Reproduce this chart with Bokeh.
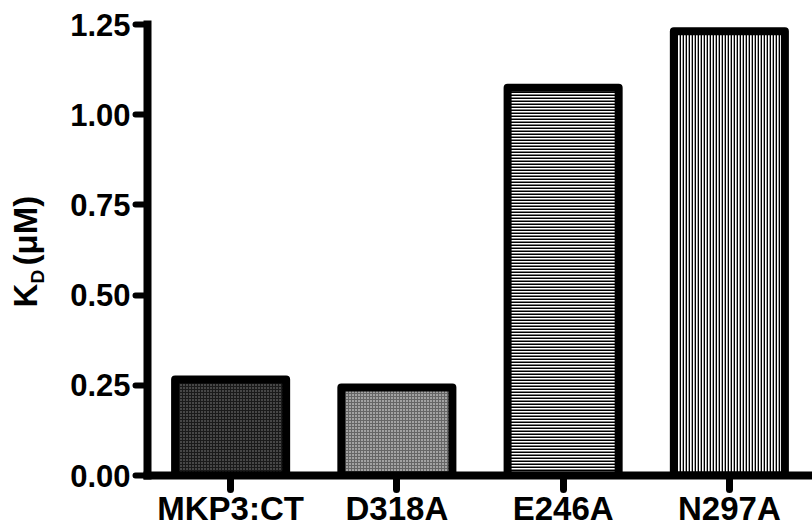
import math
from bokeh.plotting import figure
from bokeh.layouts import row
from bokeh.models import FactorRange, Range1d, FixedTicker, ColumnDataSource
from bokeh.core.properties import value
from bokeh.embed import file_html
from bokeh.resources import INLINE

# ---- data ----
categories = ["MKP3:CT", "D318A", "E246A", "N297A"]
kd_values = [0.266, 0.244, 1.075, 1.231]
y_ticks = [0.0, 0.25, 0.5, 0.75, 1.0, 1.25]
y_tick_labels = ["0.00", "0.25", "0.50", "0.75", "1.00", "1.25"]
y_title_parts = ["K", "D", "(\u03bcM)"]

# ---- styles ----
fill_colors = ["#474747", "#666666", "#ffffff", "#ffffff"]
hatch_patterns = ["cross", "dot", "horizontal_line", "vertical_line"]
hatch_colors = ["#1a1a1a", "#ffffff", "#000000", "#000000"]
hatch_weights = [1.0, 1.0, 2.0, 1.7]
FONT = "Liberation Sans"

TOTAL_W, TOTAL_H = 812, 529
LW = 60                 # width of the y-title strip
W = TOTAL_W - LW
BL, BT, BB = 147 - LW, 24, 54

source = ColumnDataSource(dict(cat=categories, kd=kd_values, fill=fill_colors,
                               hatch=hatch_patterns, hc=hatch_colors, hw=hatch_weights))

p = figure(width=W, height=TOTAL_H, x_range=FactorRange(factors=categories, range_padding=0),
           y_range=Range1d(0, 1.25), output_backend="svg", toolbar_location=None,
           title=None,
           min_border_left=BL, min_border_right=0, min_border_top=BT, min_border_bottom=BB)
p.outline_line_color = None
p.grid.visible = False
p.background_fill_color = "white"
p.border_fill_color = "white"

p.vbar(x="cat", top="kd", width=0.668, source=source,
       fill_color="fill", line_color="black", line_width=8, line_join="round",
       hatch_pattern="hatch", hatch_color="hc", hatch_scale=3, hatch_weight="hw")

# axes
for ax in (p.xaxis[0], p.yaxis[0]):
    ax.axis_line_width = 8
    ax.axis_line_color = "black"
    ax.axis_line_cap = "square"
    ax.major_tick_line_color = "black"
    ax.major_tick_line_cap = "round"
    ax.major_tick_in = 0
    ax.minor_tick_line_color = None
    ax.major_label_text_font = FONT
    ax.major_label_text_font_style = "bold"
    ax.major_label_text_color = "black"

xa = p.xaxis[0]
xa.major_tick_line_width = 7
xa.major_tick_out = 14
xa.major_label_standoff = 0
xa.major_label_text_font_size = "33px"

ya = p.yaxis[0]
ya.ticker = FixedTicker(ticks=y_ticks)
ya.major_label_overrides = {t: s for t, s in zip(y_ticks, y_tick_labels)}
ya.major_tick_line_width = 6
ya.major_tick_out = 12
ya.major_label_standoff = 5
ya.major_label_text_font_size = "31px"

# ---- y-axis title strip: "K_D (μM)" rotated, built from pieces ----
# the strip's frame lines up with the main frame (page y 24..475), so its
# y range is expressed in page pixels measured from the bottom of the page
t = figure(width=LW, height=TOTAL_H, x_range=Range1d(0, LW),
           y_range=Range1d(TOTAL_H - 475, TOTAL_H - 24),
           output_backend="svg", toolbar_location=None, title=None,
           x_axis_location=None, y_axis_location=None,
           min_border_left=0, min_border_right=0, min_border_top=BT, min_border_bottom=BB)
t.outline_line_color = None
t.grid.visible = False
t.border_fill_color = "white"
t.background_fill_color = "white"

# (baseline x, start y from top, font size) for each piece
piece_pos = [(25, 307, "33px"), (37, 283, "19px"), (25, 265, "33px")]
for txt, (bx, by, fs) in zip(y_title_parts, piece_pos):
    t.text(x=[bx], y=[TOTAL_H - by], text=[txt], angle=math.pi / 2,
           text_align="left", text_baseline="alphabetic",
           text_font=value(FONT), text_font_style="bold",
           text_font_size=value(fs), text_color="black")

layout = row(t, p, spacing=0)
open("out.html", "w").write(file_html(layout, INLINE))
